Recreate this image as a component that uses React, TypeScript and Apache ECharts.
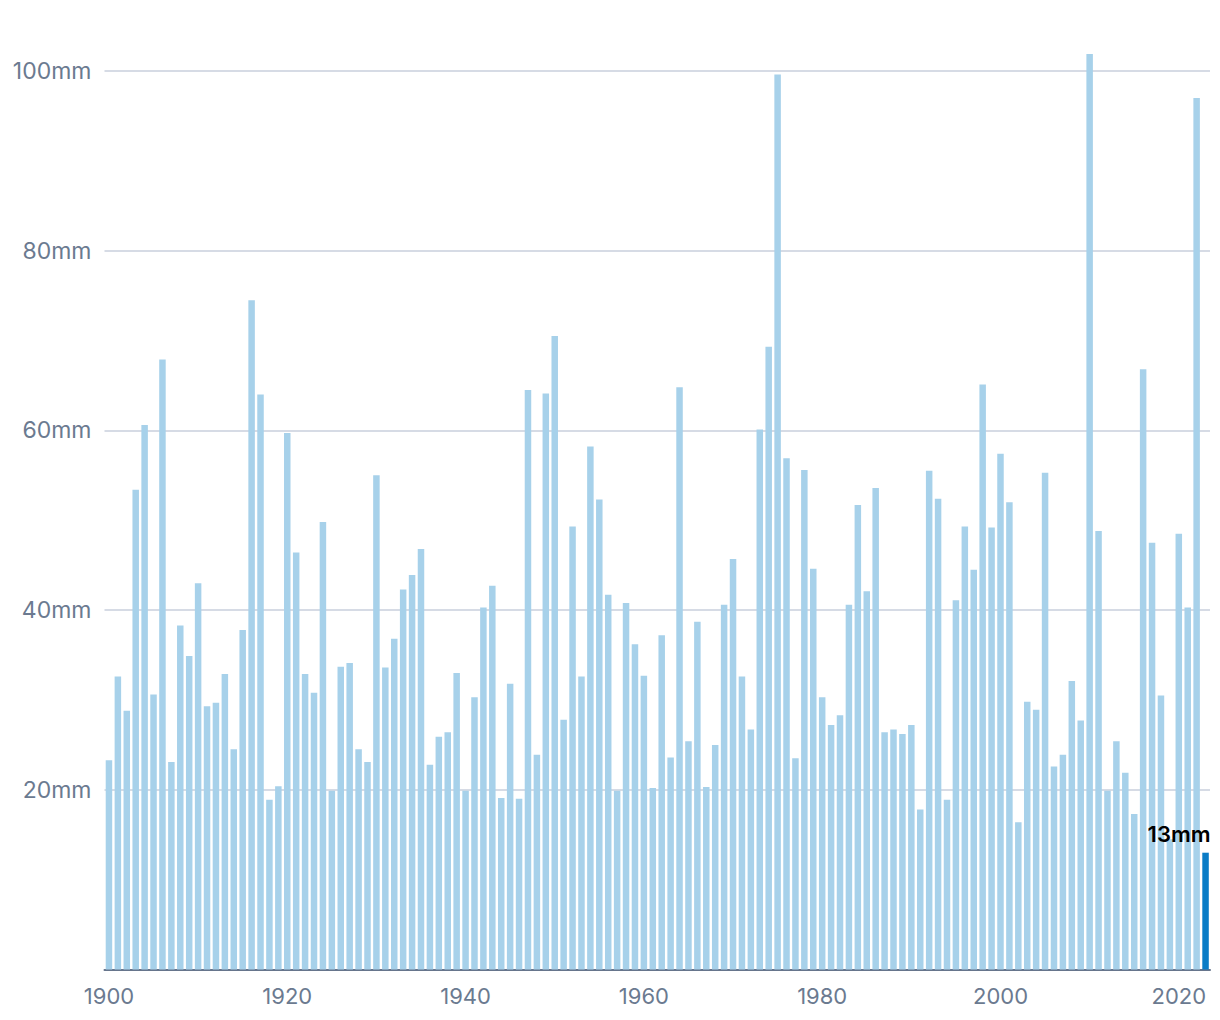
import React, { useEffect, useRef } from "react";
import * as echarts from "echarts";

const START_YEAR = 1900;
const HIGHLIGHT_YEAR = 2023;

const rainfall1900s = [23.3, 32.6, 28.8, 53.4, 60.6, 30.6, 67.9, 23.1, 38.3, 34.9];
const rainfall1910s = [43.0, 29.3, 29.7, 32.9, 24.5, 37.8, 74.5, 64.0, 18.9, 20.4];
const rainfall1920s = [59.7, 46.4, 32.9, 30.8, 49.8, 19.9, 33.7, 34.1, 24.5, 23.1];
const rainfall1930s = [55.0, 33.6, 36.8, 42.3, 43.9, 46.8, 22.8, 25.9, 26.4, 33.0];
const rainfall1940s = [19.9, 30.3, 40.3, 42.7, 19.1, 31.8, 19.0, 64.5, 23.9, 64.1];
const rainfall1950s = [70.5, 27.8, 49.3, 32.6, 58.2, 52.3, 41.7, 19.9, 40.8, 36.2];
const rainfall1960s = [32.7, 20.2, 37.2, 23.6, 64.8, 25.4, 38.7, 20.3, 25.0, 40.6];
const rainfall1970s = [45.7, 32.6, 26.7, 60.1, 69.3, 99.6, 56.9, 23.5, 55.6, 44.6];
const rainfall1980s = [30.3, 27.2, 28.3, 40.6, 51.7, 42.1, 53.6, 26.4, 26.7, 26.2];
const rainfall1990s = [27.2, 17.8, 55.5, 52.4, 18.9, 41.1, 49.3, 44.5, 65.1, 49.2];
const rainfall2000s = [57.4, 52.0, 16.4, 29.8, 28.9, 55.3, 22.6, 23.9, 32.1, 27.7];
const rainfall2010s = [101.9, 48.8, 19.9, 25.4, 21.9, 17.3, 66.8, 47.5, 30.5, 14.5];
const rainfall2020s = [48.5, 40.3, 97.0, 13.0];

const yTicks = [0, 20, 40, 60, 80, 100];

const rainfall = [
  ...rainfall1900s, ...rainfall1910s, ...rainfall1920s, ...rainfall1930s,
  ...rainfall1940s, ...rainfall1950s, ...rainfall1960s, ...rainfall1970s,
  ...rainfall1980s, ...rainfall1990s, ...rainfall2000s, ...rainfall2010s,
  ...rainfall2020s,
];
const years = rainfall.map((_, i) => String(START_YEAR + i));

const LIGHT = "#a7d1ea";
const DARK = "#0a7cc6";
const LABEL_COLOR = "#6b7a90";
const FONT = "Inter, 'Noto Sans', sans-serif";

export default function App() {
  const ref = useRef<HTMLDivElement>(null);

  useEffect(() => {
    if (!ref.current) return;
    const chart = echarts.init(ref.current, undefined, { renderer: "svg" });
    const data = rainfall.map((v, i) => {
      const isHi = Number(years[i]) === HIGHLIGHT_YEAR;
      return isHi
        ? {
            value: v,
            itemStyle: { color: DARK },
            label: {
              show: true,
              position: "top",
              align: "right",
              offset: [5, 0],
              distance: 8,
              formatter: (p: any) => `${Math.round(p.value)}mm`,
              color: "#000",
              fontFamily: FONT,
              fontSize: 22,
              fontWeight: 600,
            },
          }
        : { value: v };
    });
    chart.setOption({
      animation: false,
      grid: {
        left: 96.5,
        right: 2,
        top: 18.1,
        bottom: 42.5,
        containLabel: false,
        outerBoundsMode: "none",
      },
      xAxis: {
        type: "category",
        data: years,
        boundaryGap: true,
        axisLine: { show: true, lineStyle: { color: "#66758c", width: 2 } },
        axisTick: { show: false },
        axisLabel: {
          interval: 19,
          color: LABEL_COLOR,
          fontFamily: FONT,
          fontSize: 22,
          margin: 15,
        },
        splitLine: { show: false },
      },
      yAxis: {
        type: "value",
        min: yTicks[0],
        max: 105,
        interval: yTicks[1] - yTicks[0],
        axisLine: { show: false },
        axisTick: { show: false },
        axisLabel: {
          showMinLabel: false,
          showMaxLabel: false,
          color: LABEL_COLOR,
          fontFamily: FONT,
          fontSize: 23,
          margin: 13,
          formatter: (v: number) => `${v}mm`,
        },
        splitLine: {
          show: true,
          showMinLine: false,
          showMaxLine: false,
          lineStyle: { color: "#d6dbe5", width: 2 },
        },
      },
      series: [
        {
          type: "bar",
          data,
          barWidth: 6.5,
          itemStyle: { color: LIGHT },
        },
      ],
    });
    return () => chart.dispose();
  }, []);

  return <div ref={ref} style={{ width: 1204, height: 1004 }} />;
}
